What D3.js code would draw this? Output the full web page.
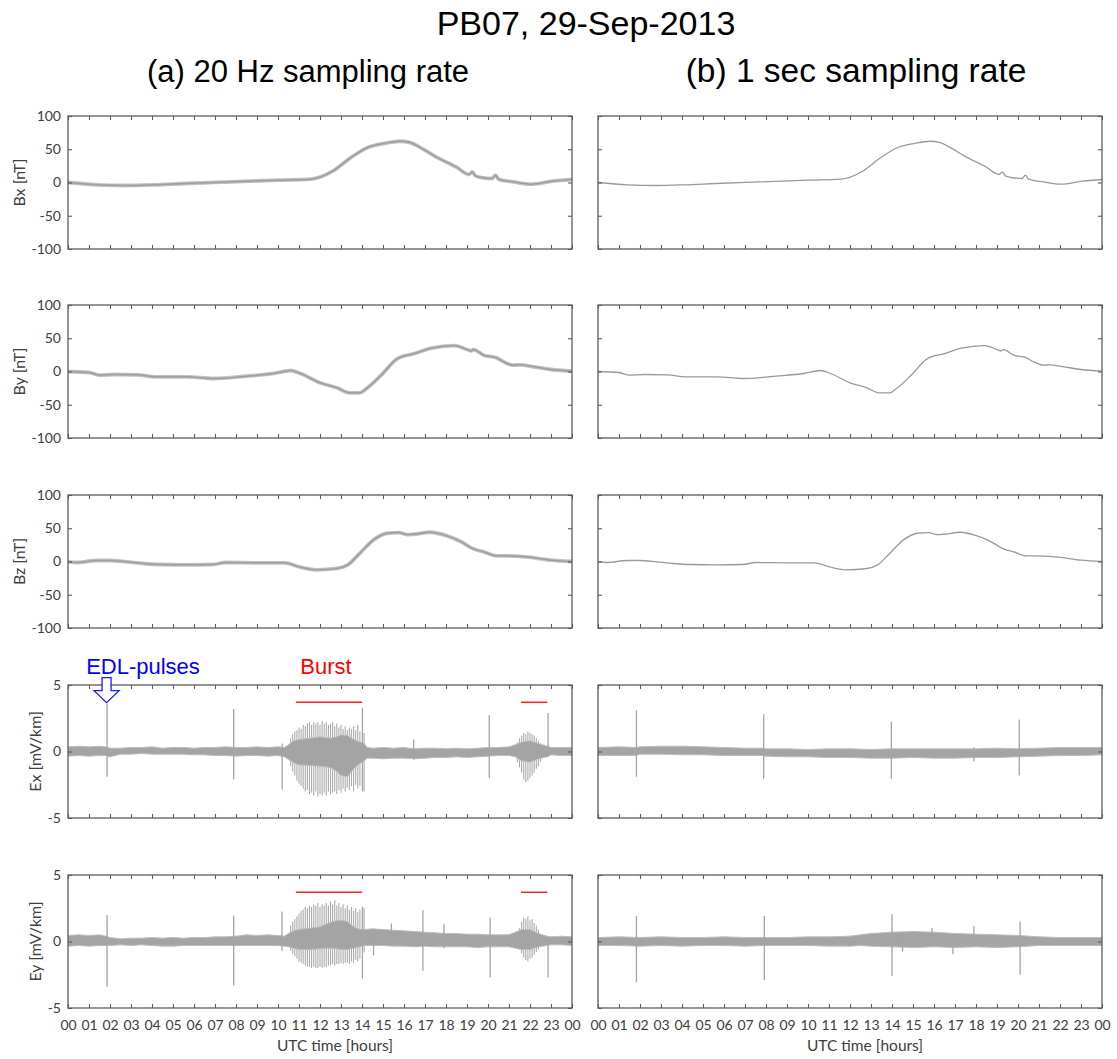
<!DOCTYPE html>
<html>
<head>
<meta charset="utf-8">
<script src="https://cdn.jsdelivr.net/npm/d3@7"></script>
<style>
  body { margin: 0; background: #fff; }
  svg { display: block; }
</style>
</head>
<body>
<svg id="fig" width="1117" height="1059"></svg>
<script>
// ---------------- data ----------------
const hourTicks  = [0,1,2,3,4,5,6,7,8,9,10,11,12,13,14,15,16,17,18,19,20,21,22,23,24];
const hourLabels = ["00","01","02","03","04","05","06","07","08","09","10","11","12",
                    "13","14","15","16","17","18","19","20","21","22","23","00"];
const bTicks = [-100, -50, 0, 50, 100];
const eTicks = [-5, 0, 5];

// magnetic field components [nT] (hours UTC, value)
const bxT = [0, 1.4, 2.75, 4.1, 5.6, 7.3, 10, 11.55, 12.6, 13.4, 14.3, 15.1, 15.8, 16.3, 16.8, 17.5, 18.5, 19.1, 19.25, 19.4, 19.7, 20.2, 20.35, 20.5, 21.2, 22.05, 23.06, 24];
const bx  = [0, -3.5, -4.5, -3.5, -1.5, 0.5, 3.5, 5, 17, 36, 53, 59, 62, 60, 52, 39, 23, 12, 16, 10, 7.5, 6, 11, 5, 1, -2.5, 2, 4.5];

const byT = [0, 1, 1.5, 2.2, 3.3, 4.2, 5.7, 6.9, 8.5, 9.8, 10.6, 11.07, 12, 12.8, 13.4, 13.9, 14.2, 14.9, 15.67, 16.5, 17.3, 18.4, 19, 19.2, 19.3, 19.8, 20.4, 20.75, 21.2, 21.5, 22.2, 23, 24];
const by  = [0, -1.5, -5.5, -4.5, -5, -8, -8, -10.5, -7, -3, 1.5, -3, -17, -24.5, -32, -32, -26, -6, 19, 27, 35, 39, 33, 31, 33, 24.5, 20.5, 14.5, 9.5, 10, 7, 3, 0.5];

const bzT = [0, 0.4, 1.4, 2, 2.8, 3.6, 4.4, 5.67, 6.9, 7.5, 9.1, 10.3, 11.07, 11.85, 12.8, 13.3, 13.9, 14.55, 15.2, 15.75, 16.15, 16.45, 17.25, 18.05, 18.7, 19.3, 19.8, 20.4, 20.75, 21.8, 23, 24];
const bz  = [0, -1.5, 1.5, 1.5, -0.5, -3, -4.5, -5, -4.5, -1.5, -2, -2, -8.5, -12.5, -10.5, -5.5, 12.5, 32.5, 42.5, 43.5, 40.5, 41, 44, 38.5, 30, 19, 14.5, 8.5, 8.5, 7, 2, 0];

// electric field noise band [mV/km]: [hour, upper, lower]
const exBand20 = [
  [0,0.35,-0.35],[0.5,0.4,-0.3],[1,0.35,-0.35],[1.5,0.4,-0.3],[1.8,0.35,-0.3],[2,0.25,-0.4],
  [2.5,0.25,-0.2],[3,0.3,-0.2],[3.5,0.3,-0.15],[4,0.35,-0.2],[4.5,0.25,-0.2],[5,0.3,-0.2],
  [5.5,0.3,-0.2],[6,0.25,-0.25],[6.5,0.3,-0.25],[7,0.3,-0.3],[7.5,0.35,-0.3],[8,0.3,-0.35],
  [8.5,0.3,-0.3],[9,0.35,-0.3],[9.5,0.3,-0.35],[10,0.35,-0.3],[10.3,0.3,-0.4],[10.5,0.5,-0.6],
  [10.75,0.8,-0.85],[11,0.9,-1.0],[11.5,1.0,-1.05],[12,1.1,-1.1],[12.5,1.0,-1.2],[12.8,1.1,-1.5],
  [13,1.25,-1.8],[13.3,1.2,-1.9],[13.6,0.9,-1.3],[13.9,0.7,-0.9],[14.1,0.6,-0.7],[14.25,0.3,-0.5],
  [14.5,0.25,-0.5],[15,0.3,-0.55],[15.5,0.25,-0.5],[16,0.3,-0.5],[16.5,0.2,-0.55],[17,0.25,-0.5],
  [17.5,0.25,-0.45],[18,0.2,-0.45],[18.5,0.25,-0.4],[19,0.2,-0.45],[19.5,0.25,-0.4],[20,0.3,-0.35],
  [20.5,0.3,-0.3],[21,0.35,-0.3],[21.3,0.5,-0.4],[21.6,0.7,-0.7],[22,0.8,-0.8],[22.4,0.6,-0.55],
  [22.8,0.4,-0.4],[23,0.3,-0.25],[23.5,0.3,-0.3],[24,0.3,-0.3]
];
const eyBand20 = [
  [0,0.45,-0.35],[0.5,0.5,-0.3],[1,0.45,-0.35],[1.5,0.5,-0.3],[1.8,0.4,-0.3],[2,0.3,-0.3],
  [2.5,0.2,-0.25],[3,0.25,-0.3],[3.5,0.25,-0.25],[4,0.3,-0.3],[4.5,0.25,-0.35],[5,0.3,-0.35],
  [5.5,0.25,-0.3],[6,0.3,-0.3],[6.5,0.3,-0.3],[7,0.35,-0.3],[7.5,0.35,-0.3],[8,0.4,-0.3],
  [8.5,0.5,-0.3],[9,0.45,-0.3],[9.5,0.5,-0.3],[10,0.45,-0.3],[10.3,0.4,-0.35],[10.5,0.6,-0.4],
  [10.75,0.8,-0.5],[11,0.9,-0.6],[11.5,1.0,-0.6],[12,1.1,-0.55],[12.3,1.3,-0.5],[12.6,1.5,-0.5],
  [13,1.6,-0.6],[13.3,1.5,-0.6],[13.6,1.1,-0.5],[13.9,0.9,-0.4],[14.1,0.9,-0.3],[14.5,0.95,-0.3],
  [15,0.9,-0.3],[15.5,0.85,-0.35],[16,0.8,-0.35],[16.5,0.75,-0.4],[17,0.7,-0.35],[17.5,0.65,-0.4],
  [18,0.6,-0.4],[18.5,0.6,-0.4],[19,0.55,-0.4],[19.5,0.55,-0.45],[20,0.5,-0.4],[20.5,0.5,-0.4],
  [21,0.5,-0.4],[21.3,0.7,-0.5],[21.6,0.9,-0.6],[22,0.9,-0.6],[22.4,0.6,-0.4],[22.8,0.4,-0.3],
  [23,0.35,-0.25],[23.5,0.4,-0.25],[24,0.35,-0.3]
];
const exBand1s = [
  [0,0.3,-0.3],[1,0.35,-0.3],[1.8,0.3,-0.3],[2,0.35,-0.2],[3,0.4,-0.2],[4,0.4,-0.25],[5,0.35,-0.25],
  [6,0.3,-0.3],[7,0.25,-0.3],[7.8,0.25,-0.3],[8,0.2,-0.35],[9,0.2,-0.4],[10,0.15,-0.4],[11,0.2,-0.45],
  [12,0.2,-0.45],[13,0.15,-0.5],[14,0.2,-0.5],[15,0.2,-0.45],[16,0.2,-0.5],[17,0.2,-0.5],[18,0.2,-0.45],
  [19,0.25,-0.45],[20,0.2,-0.4],[21,0.25,-0.35],[22,0.3,-0.3],[23,0.3,-0.3],[24,0.3,-0.25]
];
const eyBand1s = [
  [0,0.3,-0.3],[1,0.35,-0.3],[2,0.3,-0.35],[3,0.35,-0.3],[4,0.3,-0.35],[5,0.3,-0.3],[6,0.35,-0.3],
  [7,0.3,-0.35],[8,0.3,-0.3],[9,0.3,-0.3],[10,0.35,-0.3],[11,0.35,-0.35],[12,0.4,-0.35],[12.5,0.5,-0.3],
  [13,0.6,-0.35],[14,0.7,-0.4],[15,0.75,-0.45],[16,0.7,-0.4],[17,0.6,-0.45],[18,0.55,-0.4],[19,0.5,-0.45],
  [20,0.45,-0.4],[21,0.35,-0.3],[22,0.3,-0.3],[23,0.3,-0.3],[24,0.3,-0.3]
];

// isolated spikes (EDL pulses and glitches): [hour, max, min]
const exSpikes20 = [[1.86,3.6,-1.9],[7.89,3.2,-2.1],[10.2,0.6,-2.85],[14.02,3.3,-3.0],[16.46,0.9,-0.6],[20.06,2.75,-2.0],[22.86,2.9,-0.4]];
const eySpikes20 = [[1.86,2.0,-3.4],[7.89,1.95,-3.3],[10.19,2.25,-0.7],[14.02,2.6,-2.8],[14.55,0.6,-1.05],[15.4,1.35,-0.3],[16.9,2.35,-2.2],[17.9,1.3,-0.5],[20.1,1.8,-2.7],[22.86,0.3,-2.7]];
const exSpikes1s = [[1.83,3.1,-1.9],[7.89,2.8,-2.05],[13.97,2.25,-2.05],[17.9,0.3,-0.75],[20.06,2.4,-1.8]];
const eySpikes1s = [[1.83,1.92,-3.05],[7.92,1.92,-2.9],[14.0,2.05,-2.6],[14.5,0.3,-0.75],[15.9,1.0,-0.2],[16.9,0.3,-0.95],[17.9,1.15,-0.2],[20.1,1.5,-2.5]];

// oscillation bursts: individual swings [hour, max, min]
const exBurst = [
  [10.6,1.0,-1.1],[10.7,1.3,-1.5],[10.8,1.5,-1.8],[10.9,1.6,-2.2],[11.0,1.8,-2.4],[11.1,1.7,-2.6],
  [11.2,2.0,-2.8],[11.3,1.9,-3.0],[11.4,2.1,-2.9],[11.5,2.2,-3.2],[11.6,2.0,-3.1],[11.7,2.2,-3.3],
  [11.8,2.1,-3.0],[11.9,2.2,-3.4],[12.0,2.0,-3.2],[12.1,2.3,-3.3],[12.2,2.1,-3.1],[12.3,2.2,-3.3],
  [12.4,2.0,-3.0],[12.5,2.1,-3.2],[12.6,2.2,-3.1],[12.7,1.9,-3.0],[12.8,2.1,-3.2],[12.9,1.8,-2.9],
  [13.0,2.0,-3.1],[13.1,1.7,-2.8],[13.2,1.9,-3.0],[13.3,1.6,-2.7],[13.4,1.8,-2.9],[13.5,1.7,-2.6],
  [13.6,1.9,-3.0],[13.7,1.6,-2.5],[13.8,2.0,-2.8],[13.9,1.5,-2.6],[14.1,1.4,-3.0],
  [21.4,0.7,-0.8],[21.5,1.0,-1.2],[21.6,1.2,-1.6],[21.7,1.4,-2.1],[21.8,1.3,-2.3],[21.9,1.5,-2.2],
  [22.0,1.4,-2.0],[22.1,1.3,-1.8],[22.2,1.2,-1.6],[22.3,1.0,-1.3],[22.4,0.8,-1.1],[22.5,0.6,-0.8]
];
const eyBurst = [
  [10.6,1.2,-0.7],[10.7,1.5,-0.9],[10.8,1.7,-1.1],[10.9,1.9,-1.3],[11.0,2.1,-1.5],[11.1,2.3,-1.6],
  [11.2,2.4,-1.7],[11.3,2.6,-1.8],[11.4,2.5,-1.9],[11.5,2.7,-1.9],[11.6,2.6,-2.0],[11.7,2.8,-1.9],
  [11.8,2.7,-2.0],[11.9,2.9,-2.0],[12.0,2.6,-1.9],[12.1,2.8,-2.0],[12.2,2.7,-1.9],[12.3,2.9,-1.9],
  [12.4,2.7,-1.8],[12.5,3.0,-1.8],[12.6,2.8,-1.7],[12.7,3.1,-1.8],[12.8,2.7,-1.7],[12.9,2.9,-1.7],
  [13.0,2.6,-1.6],[13.1,2.8,-1.7],[13.2,2.5,-1.6],[13.3,2.7,-1.6],[13.4,2.4,-1.7],[13.5,2.6,-1.5],
  [13.6,2.3,-1.6],[13.7,2.5,-1.4],[13.8,2.2,-1.5],[13.9,2.4,-1.3],[14.1,2.5,-0.8],
  [21.5,1.0,-0.6],[21.6,1.5,-0.9],[21.7,1.8,-1.2],[21.8,1.7,-1.4],[21.9,1.9,-1.5],[22.0,1.6,-1.3],
  [22.1,1.7,-1.2],[22.2,1.4,-1.0],[22.3,1.2,-0.8],[22.4,0.9,-0.6]
];

// burst intervals marked in red [start hour, end hour], drawn at this level [mV/km]
const burstPeriods = [[10.85, 14.0], [21.57, 22.83]];
const burstMarkLevel = 3.7;
const edlPulseHour = 1.86;

// ---------------- layout ----------------
const svg = d3.select("#fig");
const colX = [[68, 572], [598, 1102]];
const rowTop = [116, 305, 495, 685, 875];
const rowH = 133;
const frameColor = "#5c5c5c";
const textColor = "#404040";
const traceColor = "#a4a4a4";
const tickFont = "Lato, 'Open Sans', sans-serif";
const titleFont = "'Liberation Sans', Arial, sans-serif";

const rows = [
  { label: "Bx [nT]", dom: [-100, 100], ticks: bTicks, t: bxT, v: bx },
  { label: "By [nT]", dom: [-100, 100], ticks: bTicks, t: byT, v: by },
  { label: "Bz [nT]", dom: [-100, 100], ticks: bTicks, t: bzT, v: bz },
  { label: "Ex [mV/km]", dom: [-5, 5], ticks: eTicks,
    band: [exBand20, exBand1s], spikes: [exSpikes20, exSpikes1s], burst: exBurst },
  { label: "Ey [mV/km]", dom: [-5, 5], ticks: eTicks,
    band: [eyBand20, eyBand1s], spikes: [eySpikes20, eySpikes1s], burst: eyBurst }
];

const scales = {};

rows.forEach((row, r) => {
  [0, 1].forEach(c => {
    const top = rowTop[r], bot = top + rowH;
    const x = d3.scaleLinear().domain([0, 24]).range(colX[c]);
    const y = d3.scaleLinear().domain(row.dom).range([bot, top]);
    scales[r + "_" + c] = { x, y };

    const g = svg.append("g");
    const clipId = `clip-${r}-${c}`;
    svg.append("clipPath").attr("id", clipId).append("rect")
      .attr("x", colX[c][0]).attr("y", top)
      .attr("width", colX[c][1] - colX[c][0]).attr("height", rowH);
    const plot = g.append("g").attr("clip-path", `url(#${clipId})`);

    if (row.t) {
      const pts = row.t.map((t, i) => [t, row.v[i]]);
      const line = d3.line().x(d => x(d[0])).y(d => y(d[1])).curve(d3.curveMonotoneX);
      if (c === 0) {
        // 20 Hz trace: wider, noisy-looking stroke
        plot.append("path").datum(pts).attr("d", line)
          .attr("fill", "none").attr("stroke", "#c2c2c2").attr("stroke-width", 3.8);
        plot.append("path").datum(pts).attr("d", line)
          .attr("fill", "none").attr("stroke", "#9e9e9e").attr("stroke-width", 1.5);
      } else {
        plot.append("path").datum(pts).attr("d", line)
          .attr("fill", "none").attr("stroke", "#9a9a9a").attr("stroke-width", 1.3);
      }
    } else {
      // burst swings (20 Hz only)
      if (c === 0) {
        plot.selectAll("line.burst").data(row.burst).join("line")
          .attr("class", "burst")
          .attr("x1", d => x(d[0])).attr("x2", d => x(d[0]))
          .attr("y1", d => y(d[1])).attr("y2", d => y(d[2]))
          .attr("stroke", "#ababab").attr("stroke-width", 1.1);
      }
      const area = d3.area().x(d => x(d[0])).y0(d => y(d[2])).y1(d => y(d[1]));
      plot.append("path").datum(row.band[c]).attr("d", area)
        .attr("fill", traceColor).attr("stroke", "#bcbcbc").attr("stroke-width", 1);
      plot.selectAll("line.spike").data(row.spikes[c]).join("line")
        .attr("class", "spike")
        .attr("x1", d => x(d[0])).attr("x2", d => x(d[0]))
        .attr("y1", d => y(d[1])).attr("y2", d => y(d[2]))
        .attr("stroke", traceColor).attr("stroke-width", 1.3);
    }

    // frame
    g.append("rect")
      .attr("x", colX[c][0]).attr("y", top)
      .attr("width", colX[c][1] - colX[c][0]).attr("height", rowH)
      .attr("fill", "none").attr("stroke", frameColor).attr("stroke-width", 1.3);

    const isLast = r === rows.length - 1;
    const fmtHour = (d, i) => hourLabels[i];

    // inward ticks on all four sides
    g.append("g").attr("transform", `translate(0,${top})`)
      .call(d3.axisBottom(x).tickValues(hourTicks).tickSizeInner(4).tickSizeOuter(0).tickFormat(""));
    g.append("g").attr("transform", `translate(0,${bot})`)
      .call(d3.axisBottom(x).tickValues(hourTicks).tickSizeInner(-4).tickSizeOuter(0)
        .tickPadding(12).tickFormat(isLast ? fmtHour : ""));
    g.append("g").attr("transform", `translate(${colX[c][0]},0)`)
      .call(d3.axisLeft(y).tickValues(row.ticks).tickSizeInner(-4).tickSizeOuter(0)
        .tickPadding(7).tickFormat(c === 0 ? (d => String(d)) : ""));
    g.append("g").attr("transform", `translate(${colX[c][1]},0)`)
      .call(d3.axisLeft(y).tickValues(row.ticks).tickSizeInner(4).tickSizeOuter(0).tickFormat(""));

    g.selectAll(".domain").remove();
    g.selectAll(".tick line").attr("stroke", frameColor).attr("stroke-width", 1.1);
    g.selectAll(".tick text").attr("fill", textColor)
      .style("font-family", tickFont).style("font-size", "14px");

    if (c === 0) {
      svg.append("text")
        .attr("transform", `translate(${r < 3 ? 19 : 35},${top + rowH / 2}) rotate(-90)`)
        .attr("text-anchor", "middle").attr("dy", "0.35em")
        .attr("fill", textColor)
        .style("font-family", tickFont).style("font-size", "16px")
        .text(row.label);
    }
    if (isLast) {
      svg.append("text")
        .attr("x", (colX[c][0] + colX[c][1]) / 2 + 15).attr("y", 1051)
        .attr("text-anchor", "middle").attr("fill", textColor)
        .style("font-family", tickFont).style("font-size", "15.5px")
        .text("UTC time [hours]");
    }
  });
});

// burst interval markers
[3, 4].forEach(r => {
  const { x, y } = scales[r + "_0"];
  svg.selectAll(null).data(burstPeriods).join("line")
    .attr("x1", d => x(d[0])).attr("x2", d => x(d[1]))
    .attr("y1", y(burstMarkLevel)).attr("y2", y(burstMarkLevel))
    .attr("stroke", "#ff2020").attr("stroke-width", 1.5);
});

// annotations above the Ex panel
{
  const { x, y } = scales["3_0"];
  const cx = x(edlPulseHour) - 0.5;
  const tipY = y(3.6) - 1;
  const arrow = [
    [cx - 4.5, tipY - 25], [cx + 4.5, tipY - 25], [cx + 4.5, tipY - 12],
    [cx + 12.5, tipY - 12], [cx, tipY], [cx - 12.5, tipY - 12], [cx - 4.5, tipY - 12]
  ];
  svg.append("polygon").attr("points", arrow.map(p => p.join(",")).join(" "))
    .attr("fill", "#fff").attr("stroke", "#1a1aff").attr("stroke-width", 1.3);
  svg.append("text").attr("x", 143).attr("y", 674).attr("text-anchor", "middle")
    .attr("fill", "#0000ff").style("font-family", titleFont)
    .style("font-size", "22px").text("EDL-pulses");
  svg.append("text").attr("x", 326).attr("y", 674).attr("text-anchor", "middle")
    .attr("fill", "#ff0000").style("font-family", titleFont)
    .style("font-size", "22px").text("Burst");
}

// titles
svg.append("text").attr("x", 586).attr("y", 35).attr("text-anchor", "middle")
  .attr("fill", "#000").style("font-family", titleFont)
  .style("font-size", "34px").text("PB07, 29-Sep-2013");
svg.append("text").attr("x", 308).attr("y", 82).attr("text-anchor", "middle")
  .attr("fill", "#000").style("font-family", titleFont)
  .style("font-size", "31px").text("(a) 20 Hz sampling rate");
svg.append("text").attr("x", 856).attr("y", 82).attr("text-anchor", "middle")
  .attr("fill", "#000").style("font-family", titleFont)
  .style("font-size", "33.5px").text("(b) 1 sec sampling rate");
</script>
</body>
</html>
